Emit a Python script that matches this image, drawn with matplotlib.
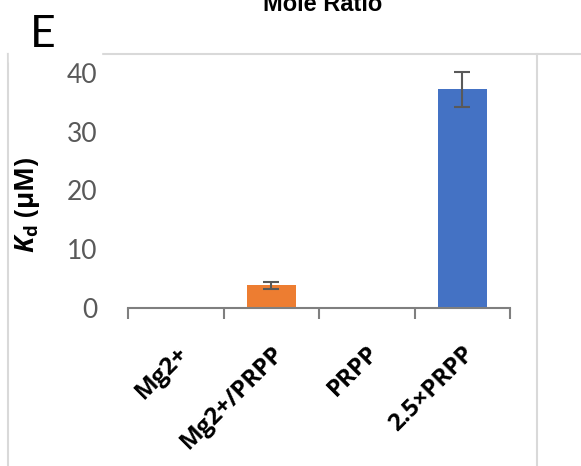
import numpy as np
import matplotlib.pyplot as plt
from matplotlib.lines import Line2D
import matplotlib.patheffects as pe

categories = ['Mg2+', 'Mg2+/PRPP', 'PRPP', '2.5×PRPP']
kd_values = [0, 3.9, 0, 37.2]
kd_errors = [0, 0.6, 0, 3.0]
bar_colors = ['#ED7D31', '#ED7D31', '#4472C4', '#4472C4']
y_ticks = [0, 10, 20, 30, 40]

plt.rcParams['font.family'] = ['Lato', 'DejaVu Sans']
plt.rcParams['mathtext.fontset'] = 'custom'
plt.rcParams['mathtext.it'] = 'Open Sans:italic:bold'
plt.rcParams['mathtext.rm'] = 'Open Sans:bold'
plt.rcParams['mathtext.bf'] = 'Open Sans:bold'

W, H = 581, 466
fig = plt.figure(figsize=(W / 100, H / 100), dpi=100)

# excel chart frame (light grey)
frame_col = '#d9d9d9'
fig.add_artist(Line2D([8 / W, 8 / W], [0, 1 - 54 / H], color=frame_col, lw=1.5))
fig.add_artist(Line2D([8 / W, 1], [1 - 54 / H, 1 - 54 / H], color=frame_col, lw=1.5))
fig.add_artist(Line2D([537 / W, 537 / W], [0, 1 - 54 / H], color=frame_col, lw=1.5))

# white box behind panel letter
fig.add_artist(plt.Rectangle((9 / W, 1 - 62 / H), 92 / W, 62 / H, color='white', zorder=2))
fig.text(30 / W, 1 - 47 / H, 'E', fontsize=32, family=['Lato', 'DejaVu Sans'],
         ha='left', va='baseline', zorder=3)

fig.text(323 / W, 1 - 11 / H, 'Mole Ratio', fontsize=17, fontweight='bold',
         family=['Liberation Sans', 'DejaVu Sans'], ha='center', va='baseline')

ax = fig.add_axes([128 / W, 1 - 308 / H, 382 / W, 235 / H])
x = np.arange(len(categories))
bars = ax.bar(x, kd_values, width=0.51, color=bar_colors, zorder=2)
for b in bars:
    b.set_path_effects([pe.SimplePatchShadow(offset=(0, 0), shadow_rgbFace='#999999', alpha=0.35),
                        pe.Normal()])
ax.errorbar(x[[1, 3]], np.array(kd_values)[[1, 3]], yerr=np.array(kd_errors)[[1, 3]],
            fmt='none', ecolor='#595959', elinewidth=1.5, capsize=6, capthick=1.5,
            clip_on=False, zorder=3)

ax.set_xlim(-0.5, 3.5)
ax.set_ylim(0, 40)
for s in ['top', 'right', 'left']:
    ax.spines[s].set_visible(False)
ax.spines['bottom'].set_color('#7f7f7f')
ax.spines['bottom'].set_linewidth(1.5)

ax.set_yticks(y_ticks)
ax.set_yticklabels([str(t) for t in y_ticks], fontsize=19, color='#595959')
ax.tick_params(axis='y', length=0, pad=22)

ax.set_xticks(x)
ax.set_xticklabels(categories, fontsize=17.5, fontweight='bold', rotation=45,
                   ha='right', va='top', rotation_mode='anchor',
                   family=['Open Sans', 'DejaVu Sans'])
ax.tick_params(axis='x', which='major', length=0, pad=24)
ax.set_xticks(np.arange(-0.5, 4, 1), minor=True)
ax.tick_params(axis='x', which='minor', length=8, width=1.5, color='#7f7f7f', direction='out')

ax.set_ylabel(r'$K_{\mathrm{d}}$ (μM)', fontsize=19, fontweight='bold',
              family=['Open Sans', 'DejaVu Sans'])
ax.yaxis.set_label_coords(-0.225, 0.44)

fig.savefig('out.png', dpi=100)
